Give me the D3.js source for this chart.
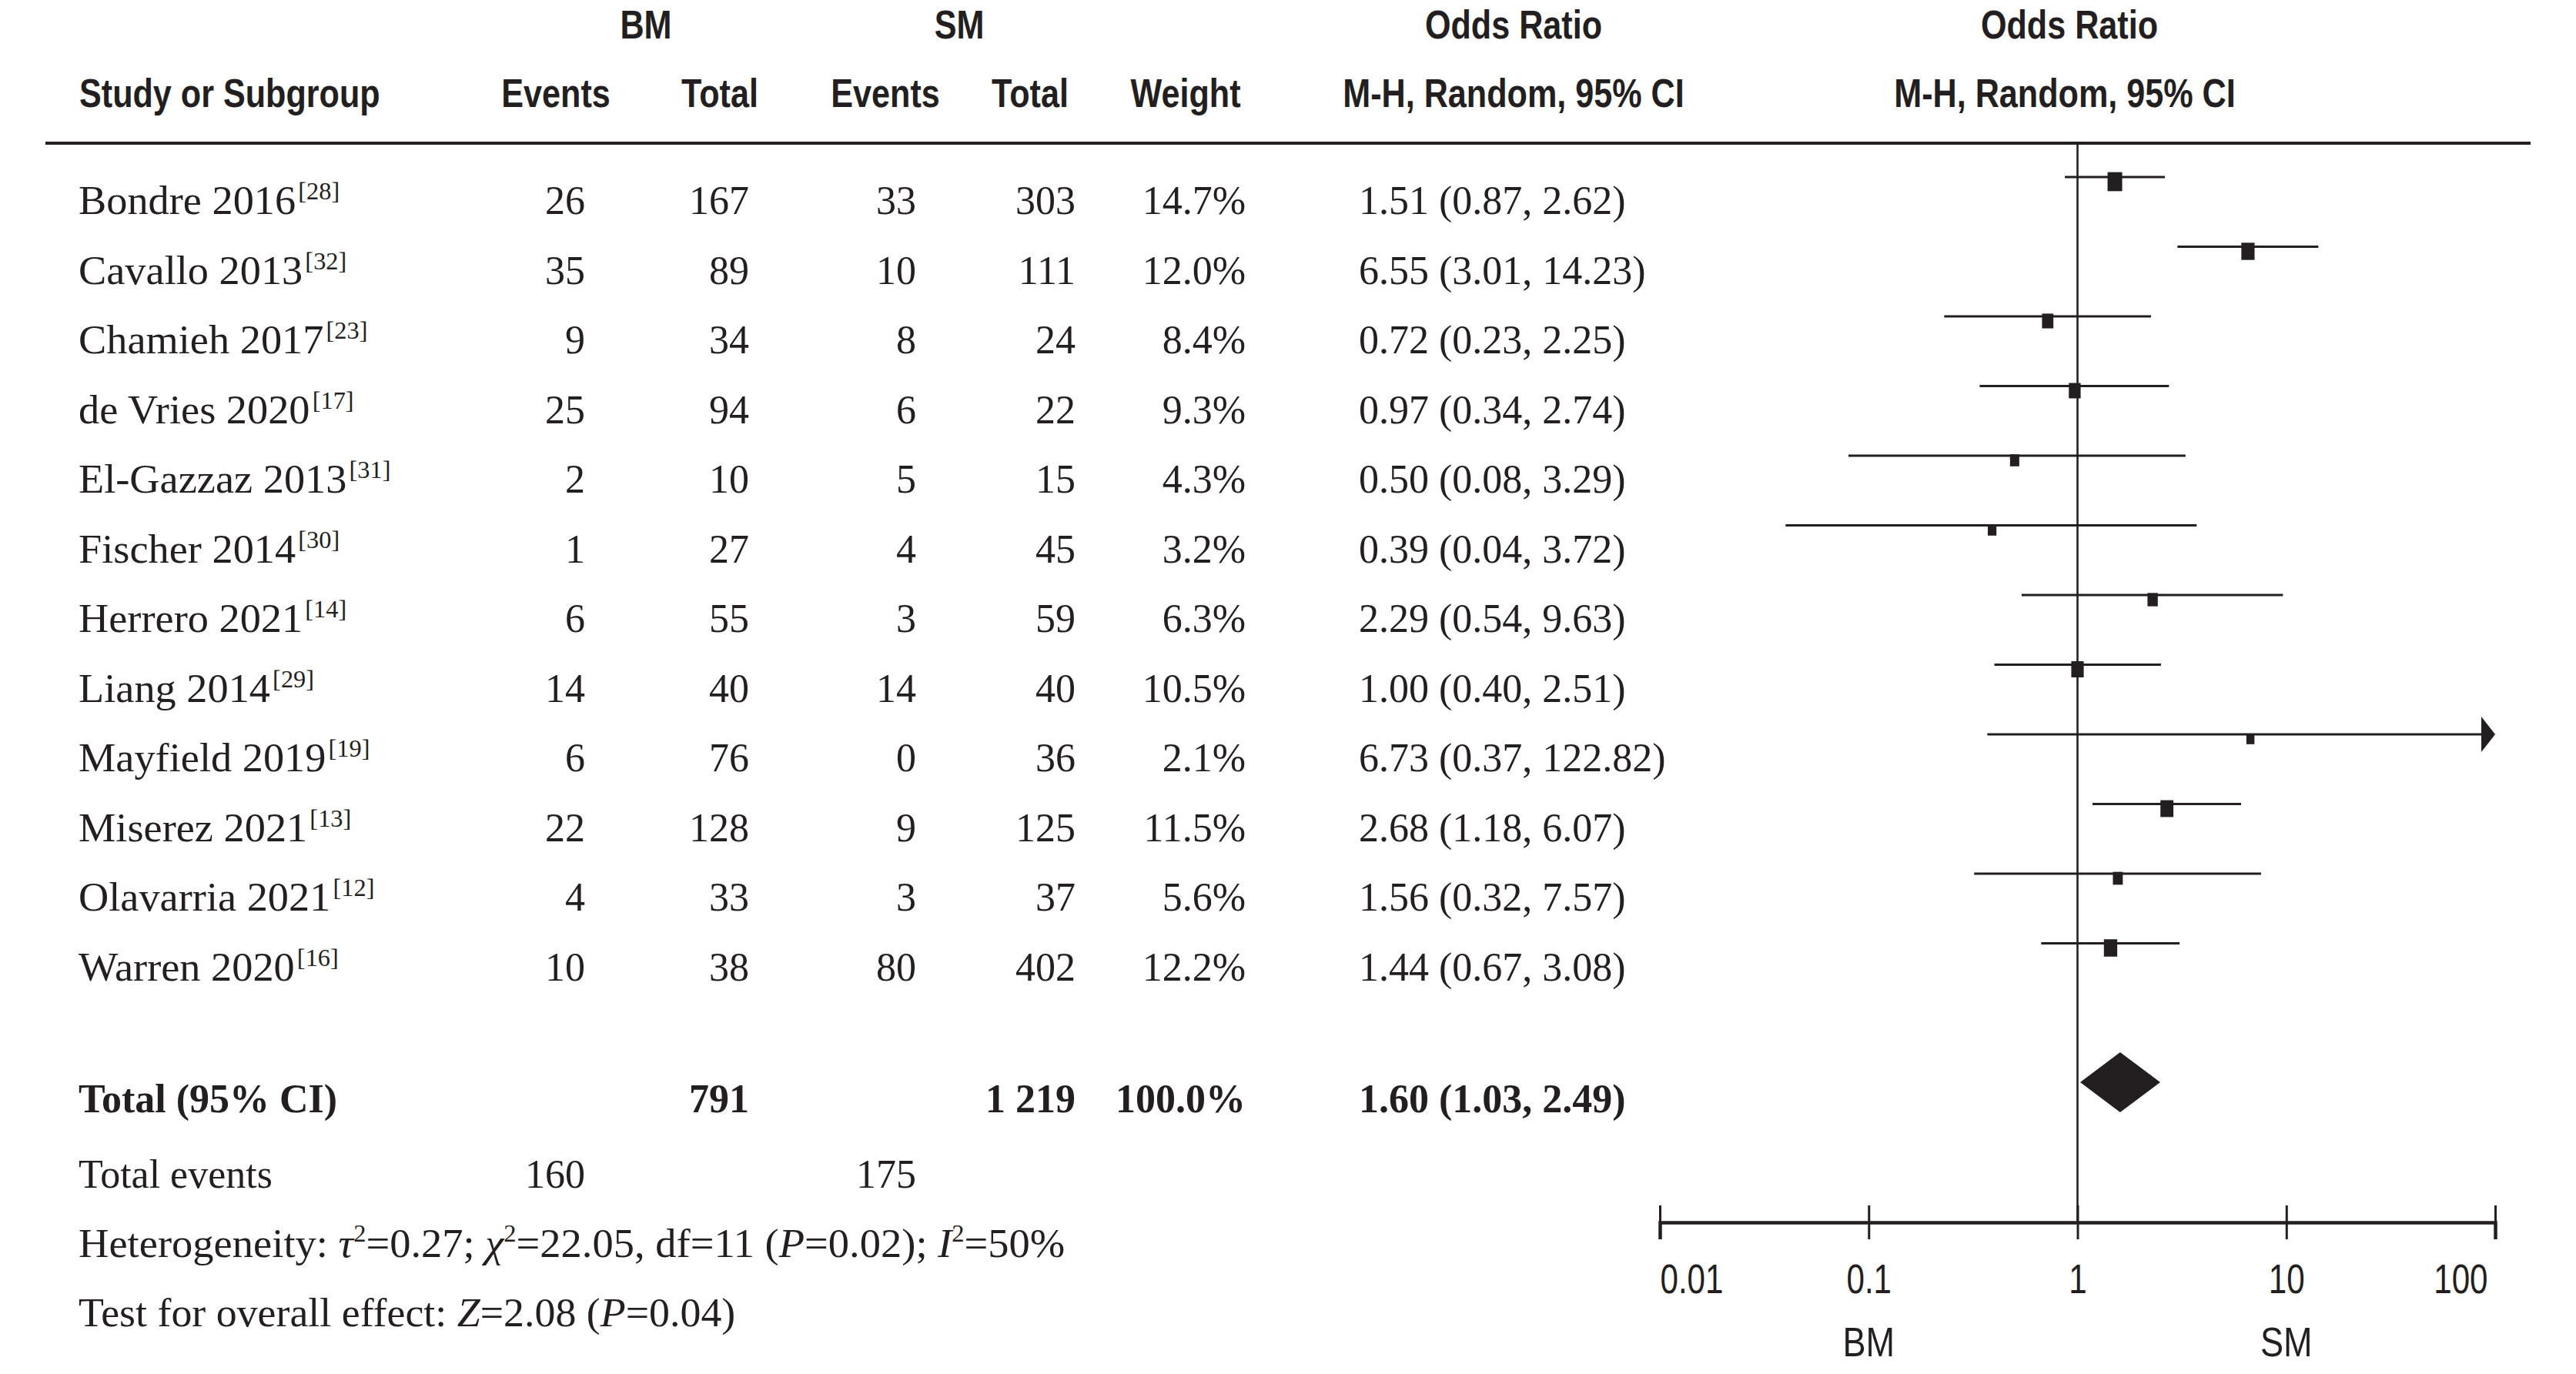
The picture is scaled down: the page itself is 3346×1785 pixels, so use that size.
<!DOCTYPE html>
<html><head><meta charset="utf-8">
<script src="https://cdn.jsdelivr.net/npm/d3@7"></script>
<style>body{margin:0;background:#fff}</style>
</head><body><svg id="c" width="3346" height="1785"></svg>
<script>
// ---------- data ----------
const studies  = ["Bondre 2016","Cavallo 2013","Chamieh 2017","de Vries 2020","El-Gazzaz 2013","Fischer 2014","Herrero 2021","Liang 2014","Mayfield 2019","Miserez 2021","Olavarria 2021","Warren 2020"];
const refs     = ["28","32","23","17","31","30","14","29","19","13","12","16"];
const bmEvents = [26,35,9,25,2,1,6,14,6,22,4,10];
const bmTotal  = [167,89,34,94,10,27,55,40,76,128,33,38];
const smEvents = [33,10,8,6,5,4,3,14,0,9,3,80];
const smTotal  = [303,111,24,22,15,45,59,40,36,125,37,402];
const weights  = [14.7,12.0,8.4,9.3,4.3,3.2,6.3,10.5,2.1,11.5,5.6,12.2];
const oddsRatio= [1.51,6.55,0.72,0.97,0.50,0.39,2.29,1.00,6.73,2.68,1.56,1.44];
const ciLow    = [0.87,3.01,0.23,0.34,0.08,0.04,0.54,0.40,0.37,1.18,0.32,0.67];
const ciHigh   = [2.62,14.23,2.25,2.74,3.29,3.72,9.63,2.51,122.82,6.07,7.57,3.08];
const totalBM = "791", totalSM = "1 219", totalWeight = "100.0%";
const pooled = {or:1.60, lo:1.03, hi:2.49};
const totalEventsBM = 160, totalEventsSM = 175;
const tickValues = [0.01,0.1,1,10,100];
const tickLabels = ["0.01","0.1","1","10","100"];
const favourLabels = ["BM","SM"];

// ---------- setup ----------
const W=3346,H=1785, ink="#231f20";
const serif="'Liberation Serif','Times New Roman',serif";
const sans="'Liberation Sans',Arial,sans-serif";
const svg=d3.select("#c");
svg.append("rect").attr("width",W).attr("height",H).attr("fill","#fff");

const x=d3.scaleLog().domain([0.01,100]).range([2156,3241]);
const yBase=d3.scaleLinear().domain([0,11]).range([278,1273.5]);
const boxW=d3.scaleLinear().domain([2.1,14.7]).range([10.5,19]);

function cond(txt,xp,yp,anchor,size,weight,sx){
  svg.append("text").attr("transform",`translate(${xp},${yp}) scale(${sx},1)`)
    .attr("text-anchor",anchor).attr("font-family",sans).attr("font-size",size)
    .attr("font-weight",weight).attr("fill",ink).text(txt);
}
function serifText(txt,xp,yp,anchor,bold){
  return svg.append("text").attr("x",xp).attr("y",yp).attr("text-anchor",anchor)
    .attr("font-family",serif).attr("font-size",52).attr("font-weight",bold?"bold":"normal")
    .attr("fill",ink).text(txt);
}
function wideText(xp,yp,sx){
  return svg.append("text").attr("transform",`translate(${xp},${yp}) scale(${sx},1)`)
    .attr("font-family",serif).attr("font-size",52).attr("fill",ink);
}

// ---------- header ----------
const hs=0.83;
cond("BM",839,50,"middle",52,"bold",hs);
cond("SM",1246,50,"middle",52,"bold",hs);
cond("Odds Ratio",1966,50,"middle",52,"bold",hs);
cond("Odds Ratio",2688,50,"middle",52,"bold",hs);
cond("Study or Subgroup",103,139,"start",52,"bold",hs);
cond("Events",722,139,"middle",52,"bold",hs);
cond("Total",935,139,"middle",52,"bold",hs);
cond("Events",1150,139,"middle",52,"bold",hs);
cond("Total",1338,139,"middle",52,"bold",hs);
cond("Weight",1540,139,"middle",52,"bold",hs);
cond("M-H, Random, 95% CI",1966,139,"middle",52,"bold",hs);
cond("M-H, Random, 95% CI",2682,139,"middle",52,"bold",hs);

svg.append("line").attr("x1",59).attr("x2",3287).attr("y1",186).attr("y2",186)
  .attr("stroke",ink).attr("stroke-width",4);

// ---------- study rows ----------
studies.forEach((s,i)=>{
  const yb=yBase(i);
  const t=wideText(102,yb,1.045);
  t.append("tspan").text(s);
  t.append("tspan").attr("font-size",31).attr("dy",-19).attr("dx",3).text(`[${refs[i]}]`);
  serifText(bmEvents[i],760,yb,"end");
  serifText(bmTotal[i],973,yb,"end");
  serifText(smEvents[i],1190,yb,"end");
  serifText(smTotal[i],1397,yb,"end");
  serifText(weights[i].toFixed(1)+"%",1618,yb,"end");
  serifText(`${oddsRatio[i].toFixed(2)} (${ciLow[i].toFixed(2)}, ${ciHigh[i].toFixed(2)})`,1765,yb,"start");
});

// ---------- totals ----------
serifText("Total (95% CI)",102,1445,"start",true);
serifText(totalBM,973,1445,"end",true);
serifText(totalSM,1397,1445,"end",true);
serifText(totalWeight,1618,1445,"end",true);
serifText(`${pooled.or.toFixed(2)} (${pooled.lo.toFixed(2)}, ${pooled.hi.toFixed(2)})`,1765,1445,"start",true);
serifText("Total events",102,1543,"start");
serifText(totalEventsBM,760,1543,"end");
serifText(totalEventsSM,1190,1543,"end");

const het=wideText(102,1633,1.049);
het.append("tspan").text("Heterogeneity: ");
het.append("tspan").attr("font-style","italic").text("τ");
het.append("tspan").attr("font-size",31).attr("dy",-20).text("2");
het.append("tspan").attr("dy",20).text("=0.27; ");
het.append("tspan").attr("font-style","italic").text("χ");
het.append("tspan").attr("font-size",31).attr("dy",-20).text("2");
het.append("tspan").attr("dy",20).text("=22.05, df=11 (");
het.append("tspan").attr("font-style","italic").text("P");
het.append("tspan").text("=0.02); ");
het.append("tspan").attr("font-style","italic").text("I");
het.append("tspan").attr("font-size",31).attr("dy",-20).text("2");
het.append("tspan").attr("dy",20).text("=50%");

const tst=wideText(102,1723,1.036);
tst.append("tspan").text("Test for overall effect: ");
tst.append("tspan").attr("font-style","italic").text("Z");
tst.append("tspan").text("=2.08 (");
tst.append("tspan").attr("font-style","italic").text("P");
tst.append("tspan").text("=0.04)");

// ---------- forest plot ----------
const axisY=1588;
svg.append("line").attr("x1",x(1)).attr("x2",x(1)).attr("y1",188).attr("y2",axisY)
  .attr("stroke",ink).attr("stroke-width",2.6);

const g=svg.append("g");
studies.forEach((s,i)=>{
  const ly=yBase(i)-48;
  const x1=x(Math.max(ciLow[i],0.01));
  const clipped=ciHigh[i]>100;
  const x2=clipped? x(100)-18 : x(ciHigh[i]);
  g.append("line").attr("x1",x1).attr("x2",x2).attr("y1",ly).attr("y2",ly)
    .attr("stroke",ink).attr("stroke-width",3.2);
  if(clipped){
    g.append("path").attr("d",`M${x(100)-18},${ly-23}L${x(100)},${ly}L${x(100)-18},${ly+23}Z`).attr("fill",ink);
  }
  const bw=boxW(weights[i]), bh=bw*1.3;
  g.append("rect").attr("x",x(oddsRatio[i])-bw/2).attr("y",ly+6-bh/2)
    .attr("width",bw).attr("height",bh).attr("fill",ink);
});

const dy=1406;
g.append("path").attr("d",`M${x(pooled.lo)},${dy}L${x(pooled.or)},${dy-39}L${x(pooled.hi)},${dy}L${x(pooled.or)},${dy+39}Z`)
  .attr("fill",ink);

// axis
const axis=d3.axisBottom(x).tickValues(tickValues).tickSizeOuter(0).tickSize(22).tickFormat((d,i)=>tickLabels[i]);
const ag=svg.append("g").attr("transform",`translate(0,${axisY})`).call(axis);
ag.select(".domain").attr("stroke",ink).attr("stroke-width",4.5);
ag.selectAll(".tick line").attr("y1",-22).attr("y2",22).attr("stroke",ink).attr("stroke-width",3);
const ts=0.78;
ag.selectAll(".tick text")
  .attr("font-family",sans).attr("font-size",54).attr("fill",ink)
  .attr("dy",null).attr("y",92)
  .attr("transform",`scale(${ts},1)`)
  .attr("text-anchor",(d,i)=> i===0?"start":(i===tickValues.length-1?"end":"middle"))
  .attr("x",(d,i)=> i===tickValues.length-1? -10/ts : 0);

cond(favourLabels[0],x(0.1),1762,"middle",53,"normal",0.85);
cond(favourLabels[1],x(10),1762,"middle",53,"normal",0.85);
</script></body></html>
